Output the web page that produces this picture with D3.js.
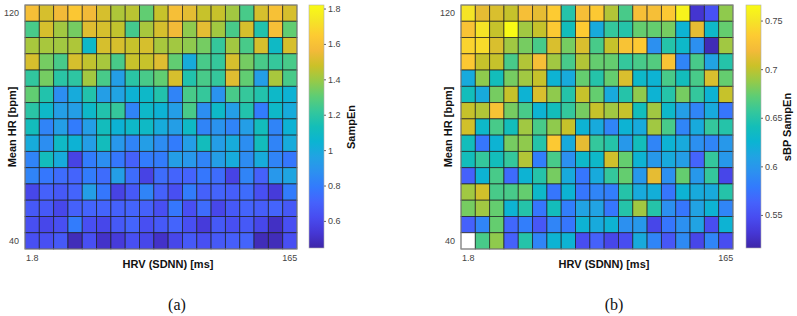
<!DOCTYPE html>
<html><head><meta charset="utf-8">
<script src="https://cdn.jsdelivr.net/npm/d3@7"></script>
<style>body{margin:0;background:#fff}svg{display:block;font-family:"Liberation Sans",Arial,sans-serif}</style>
</head><body><svg id="chart" width="797" height="316"></svg>
<script>
// ---------- data ----------
const xTickLabels = ["1.8", "165"];     // first / last SDNN bin
const yTickLabels = ["120", "40"];      // top / bottom HR bin
const nCols = 19;
const nRows = 15;

// SampEn of HR, rows from HR 120 (top) down to HR 40 (bottom)
const sampEn = [
  [1.59,1.50,1.56,1.63,1.56,1.50,1.43,1.45,1.31,1.47,1.59,1.53,1.47,1.47,1.41,1.26,1.50,1.60,1.50],
  [1.26,1.50,1.41,1.34,1.52,1.50,1.46,1.25,1.42,1.50,1.56,1.38,1.53,1.41,1.26,1.50,1.17,1.59,1.31],
  [1.42,1.42,1.41,1.43,1.08,1.50,1.50,1.47,1.50,1.42,1.41,1.38,1.34,1.22,1.41,1.26,1.50,1.09,1.50],
  [1.50,1.34,1.26,1.50,1.46,1.42,1.26,1.47,1.47,1.52,1.31,1.00,1.26,1.22,1.50,1.34,1.26,1.22,1.26],
  [1.21,1.34,1.19,1.20,1.41,1.26,0.94,1.19,1.26,1.31,1.50,1.17,1.26,1.22,1.52,1.31,0.94,1.42,1.26],
  [1.31,1.17,0.87,1.00,1.17,0.94,0.96,1.04,1.08,1.17,0.83,1.26,1.22,0.89,1.26,1.22,1.17,1.08,1.04],
  [1.19,1.08,0.94,0.94,1.08,1.17,1.22,0.83,1.08,1.04,0.94,1.26,0.87,1.08,0.94,1.17,0.80,1.08,1.00],
  [1.12,0.83,0.94,0.80,0.94,1.12,1.04,1.08,1.09,1.00,0.94,1.09,0.83,0.89,0.83,0.94,1.12,0.83,1.04],
  [1.00,0.87,1.09,1.04,0.94,1.12,0.91,0.83,0.94,0.86,0.80,0.94,1.12,0.94,1.00,0.87,1.12,0.83,1.00],
  [0.83,1.12,1.00,0.58,0.80,0.87,0.78,0.70,0.80,0.80,0.94,0.91,0.83,0.94,1.00,0.86,1.00,0.83,0.78],
  [0.83,0.78,0.74,0.71,0.80,0.74,0.94,0.74,0.58,0.74,0.71,0.71,0.78,0.74,0.58,0.83,0.70,0.91,0.97],
  [0.60,0.70,0.67,0.71,0.94,0.78,0.58,0.67,0.83,0.70,0.63,0.80,0.70,0.71,0.69,0.74,0.63,0.55,0.80],
  [0.67,0.67,0.60,0.70,0.71,0.71,0.70,0.71,0.70,0.63,0.78,0.63,0.74,0.60,0.67,0.71,0.69,0.71,0.67],
  [0.63,0.60,0.63,0.80,0.63,0.60,0.67,0.71,0.63,0.67,0.71,0.63,0.55,0.67,0.63,0.67,0.60,0.50,0.63],
  [0.63,0.63,0.67,0.48,0.63,0.51,0.55,0.63,0.60,0.51,0.60,0.67,0.63,0.67,0.69,0.71,0.48,0.48,0.63]
];

// sBP SampEn, same layout (null = empty bin)
const sbpSampEn = [
  [0.750,0.714,0.709,0.702,0.724,0.714,0.735,0.649,0.724,0.733,0.696,0.664,0.724,0.724,0.733,0.760,0.530,0.551,0.686],
  [0.727,0.750,0.702,0.766,0.691,0.702,0.733,0.639,0.735,0.616,0.656,0.649,0.674,0.674,0.679,0.624,0.714,0.631,0.674],
  [0.740,0.745,0.709,0.691,0.679,0.664,0.709,0.679,0.709,0.664,0.702,0.727,0.733,0.594,0.649,0.631,0.594,0.521,0.691],
  [0.733,0.702,0.702,0.664,0.696,0.724,0.691,0.664,0.696,0.674,0.674,0.656,0.664,0.668,0.727,0.586,0.664,0.610,0.649],
  [0.616,0.686,0.639,0.679,0.691,0.702,0.624,0.616,0.674,0.649,0.674,0.709,0.631,0.624,0.664,0.639,0.664,0.709,0.674],
  [0.639,0.616,0.679,0.702,0.624,0.709,0.686,0.649,0.702,0.674,0.616,0.649,0.686,0.624,0.649,0.679,0.656,0.624,0.702],
  [0.702,0.696,0.727,0.679,0.664,0.624,0.639,0.656,0.679,0.702,0.691,0.702,0.639,0.691,0.631,0.606,0.586,0.616,0.576],
  [0.706,0.631,0.664,0.639,0.691,0.664,0.686,0.702,0.624,0.616,0.586,0.624,0.616,0.691,0.664,0.586,0.616,0.656,0.649],
  [0.639,0.576,0.624,0.679,0.686,0.649,0.733,0.616,0.714,0.656,0.649,0.601,0.639,0.586,0.624,0.616,0.594,0.586,0.601],
  [0.639,0.656,0.639,0.656,0.696,0.581,0.664,0.594,0.631,0.631,0.706,0.674,0.624,0.601,0.616,0.606,0.564,0.656,0.601],
  [0.562,0.624,0.664,0.569,0.624,0.649,0.679,0.616,0.576,0.616,0.656,0.674,0.601,0.714,0.594,0.674,0.601,0.656,0.543],
  [0.691,0.706,0.664,0.664,0.674,0.631,0.576,0.624,0.576,0.586,0.581,0.649,0.616,0.620,0.576,0.624,0.616,0.616,0.649],
  [0.679,0.691,0.674,0.624,0.649,0.576,0.639,0.581,0.610,0.610,0.576,0.649,0.691,0.649,0.594,0.576,0.610,0.624,0.586],
  [0.562,0.586,0.674,0.566,0.581,0.555,0.586,0.576,0.624,0.616,0.624,0.594,0.601,0.543,0.576,0.594,0.610,0.548,0.624],
  [null, 0.664,0.686,0.562,0.649,0.586,0.624,0.624,0.548,0.562,0.543,0.548,0.616,0.586,0.555,0.590,0.543,0.586,0.548]
];

const sampEnDomain = [0.447, 1.82];
const sampEnTicks = [0.6, 0.8, 1, 1.2, 1.4, 1.6, 1.8];
const sbpDomain = [0.516, 0.766];
const sbpTicks = [0.55, 0.6, 0.65, 0.7, 0.75];

// parula colormap stops
const parula = ["#3e26a8","#4537d5","#484cf0","#4562fc","#337afd","#2c90f0","#21a3e3","#0bb4d2",
  "#14beb8","#35c79b","#5ecd74","#96ca48","#cbc128","#f3ba39","#fdcb32","#f5e526","#f9fb15"];

// ---------- drawing ----------
const svg = d3.select("#chart");
const interp = d3.piecewise(d3.interpolateRgb, parula);

// gradient for colorbars
const grad = svg.append("defs").append("linearGradient")
  .attr("id", "parulaGrad").attr("x1", 0).attr("y1", 1).attr("x2", 0).attr("y2", 0);
parula.forEach((c, i) => grad.append("stop").attr("offset", i / (parula.length - 1)).attr("stop-color", c));

function panel(cfg) {
  const g = svg.append("g");
  const x = d3.scaleBand().domain(d3.range(nCols)).range([cfg.x0, cfg.x1]);
  const y = d3.scaleBand().domain(d3.range(nRows)).range([cfg.y0, cfg.y1]);
  const color = d3.scaleSequential(interp).domain(cfg.domain).clamp(true);

  const cells = [];
  cfg.data.forEach((row, r) => row.forEach((v, c) => cells.push({r, c, v})));
  g.append("g").selectAll("rect").data(cells).join("rect")
    .attr("x", d => x(d.c)).attr("y", d => y(d.r))
    .attr("width", x.bandwidth()).attr("height", y.bandwidth())
    .attr("fill", d => d.v == null ? "#ffffff" : color(d.v))
    .attr("stroke", "#1b1b1b").attr("stroke-opacity", 0.75).attr("stroke-width", 0.9);

  // outer box
  g.append("rect").attr("x", cfg.x0).attr("y", cfg.y0)
    .attr("width", cfg.x1 - cfg.x0).attr("height", cfg.y1 - cfg.y0)
    .attr("fill", "none").attr("stroke", "#9a9a9a").attr("stroke-width", 0.8);

  // axes (first/last bin labels only)
  const xa = g.append("g").attr("transform", `translate(0,${cfg.y1 + 3})`)
    .call(d3.axisBottom(x).tickValues([0, nCols - 1]).tickSize(0)
      .tickFormat((d, i) => xTickLabels[i]));
  const ya = g.append("g").attr("transform", `translate(${cfg.x0 - 3},0)`)
    .call(d3.axisLeft(y).tickValues([0, nRows - 1]).tickSize(0)
      .tickFormat((d, i) => yTickLabels[i]));
  [xa, ya].forEach(a => {
    a.select(".domain").remove();
    a.selectAll("text").attr("font-size", 9).attr("fill", "#444")
      .attr("font-family", "Liberation Sans, Arial, sans-serif");
  });

  g.append("text").attr("x", (cfg.x0 + cfg.x1) / 2 + 7).attr("y", cfg.y1 + 19)
    .attr("text-anchor", "middle").attr("font-size", 11).attr("font-weight", "bold")
    .attr("fill", "#111").text("HRV (SDNN) [ms]");
  g.append("text").attr("transform", `translate(${cfg.x0 - 9},${(cfg.y0 + cfg.y1) / 2}) rotate(-90)`)
    .attr("text-anchor", "middle").attr("font-size", 11).attr("font-weight", "bold")
    .attr("fill", "#111").text("Mean HR [bpm]");

  // colorbar
  const cb = g.append("g");
  const cy = d3.scaleLinear().domain(cfg.domain).range([cfg.y1 - 1, cfg.y0]);
  cb.append("rect").attr("x", cfg.cbX).attr("y", cfg.y0)
    .attr("width", 15).attr("height", cfg.y1 - 1 - cfg.y0)
    .attr("fill", "url(#parulaGrad)").attr("stroke", "#b0b0b0").attr("stroke-width", 0.6);
  const cax = cb.append("g").attr("transform", `translate(${cfg.cbX + 15},0)`)
    .call(d3.axisRight(cy).tickValues(cfg.ticks).tickSize(2).tickPadding(2)
      .tickFormat(d3.format("~g")));
  cax.select(".domain").remove();
  cax.selectAll("line").attr("stroke", "#666");
  cax.selectAll("text").attr("font-size", 9).attr("fill", "#444")
    .attr("font-family", "Liberation Sans, Arial, sans-serif");
  cb.append("text").attr("transform", `translate(${cfg.cbTitleX},${(cfg.y0 + cfg.y1) / 2}) rotate(-90)`)
    .attr("text-anchor", "middle").attr("dominant-baseline", "middle")
    .attr("font-size", 11).attr("font-weight", "bold").attr("fill", "#111").text(cfg.cbTitle);

  // caption
  g.append("text").attr("x", cfg.capX).attr("y", 310).attr("text-anchor", "middle")
    .attr("font-family", "Liberation Serif, Times New Roman, serif").attr("font-size", 16)
    .attr("fill", "#111").text(cfg.caption);
}

panel({data: sampEn, domain: sampEnDomain, ticks: sampEnTicks,
  x0: 25, x1: 297, y0: 5, y1: 249, cbX: 309, cbTitleX: 352, cbTitle: "SampEn", capX: 177, caption: "(a)"});
panel({data: sbpSampEn, domain: sbpDomain, ticks: sbpTicks,
  x0: 461, x1: 733, y0: 5, y1: 249, cbX: 746, cbTitleX: 788, cbTitle: "sBP SampEn", capX: 614, caption: "(b)"});
</script>
</body></html>
